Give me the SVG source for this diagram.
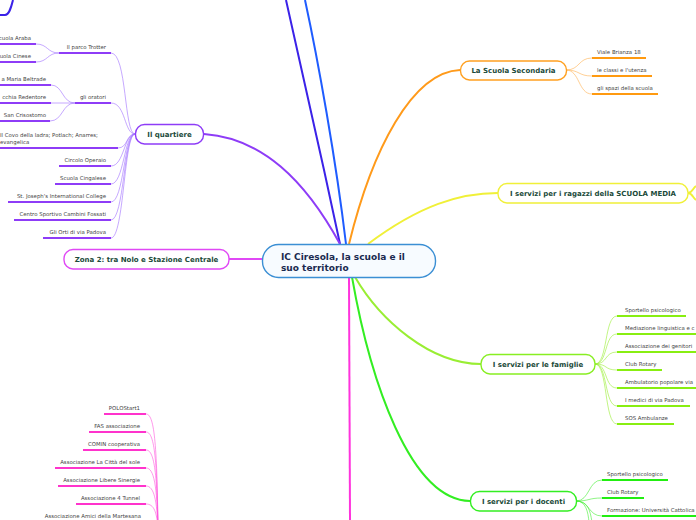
<svg xmlns="http://www.w3.org/2000/svg" width="696" height="520" viewBox="0 0 696 520">
<style>
.t{font-family:"DejaVu Sans",Verdana,sans-serif;font-size:5.4px;fill:#444}
.n{font-family:"DejaVu Sans",Verdana,sans-serif;font-size:7px;font-weight:bold;fill:#1b4a3a;text-anchor:middle}
.e{text-anchor:end}
.box{fill:#fff;stroke-width:1.4}
.ul{fill:none;stroke-width:2}
.c{fill:none;stroke-width:1;opacity:.6}
.m{fill:none;stroke-width:2}
</style>
<rect width="696" height="520" fill="#fff"/>
<g id="connectors">
<path class="m" d="M340,244 C322,160 300,60 286,0" stroke="#3b22e8"/>
<path class="m" d="M346,244 C336,160 318,60 305,0" stroke="#1f5cff"/>
<path class="m" d="M204,134 C262,138 305,180 340,244" stroke="#8e3cf7"/>
<path class="m" d="M349,244 C372,150 412,72 460,70" stroke="#ff9a1a"/>
<path class="m" d="M368,244 C420,205 460,193 498,193" stroke="#f0f038"/>
<path class="m" d="M229,259 L263,259" stroke="#e048f5"/>
<path class="m" d="M349,277 L350,520" stroke="#ff33dd"/>
<path class="m" d="M355,277 C380,320 430,364 481,364" stroke="#99ee33"/>
<path class="m" d="M352,277 C370,380 410,500 470,501" stroke="#33ee22"/>
<path class="m" d="M0,15 L5,15 C9,15 11,8 13,0" stroke="#3b22e8"/>
<path class="m" d="M688,193 C692,193 693,188 696,186 M688,193 C692,193 693,198 696,200" stroke="#f0f038"/>
<g stroke="#a070ff">
<path class="c" d="M111,53 C127,53 124,134 135,134"/>
<path class="c" d="M111,103 C126,103 124,134 135,134"/>
<path class="c" d="M118,148 C128,148 126,134 135,134"/>
<path class="c" d="M111,166 C124,166 124,134 135,134"/>
<path class="c" d="M111,184 C124,184 124,134 135,134"/>
<path class="c" d="M111,202 C124,202 124,134 135,134"/>
<path class="c" d="M111,220 C124,220 124,134 135,134"/>
<path class="c" d="M111,238 C124,238 124,134 135,134"/>
<path class="c" d="M36,44 C48,44 47,53 59,53"/>
<path class="c" d="M36,62 C48,62 47,53 59,53"/>
<path class="c" d="M51,85 C63,85 62,103 75,103"/>
<path class="c" d="M51,103 L75,103"/>
<path class="c" d="M50,121 C63,121 62,103 75,103"/>
</g>
<g stroke="#ff55dd">
<path class="c" d="M146,414 C154,414 157,440 158,530"/>
<path class="c" d="M146,432 C154,432 157,455 158,530"/>
<path class="c" d="M146,450 C154,450 157,470 158,530"/>
<path class="c" d="M146,468 C154,468 157,485 158,530"/>
<path class="c" d="M146,486 C154,486 157,500 158,530"/>
<path class="c" d="M146,504 C154,504 157,512 158,530"/>
</g>
<g stroke="#ffb050">
<path class="c" d="M566,70 C580,70 578,58 592,58"/>
<path class="c" d="M566,70 C580,70 578,76 592,76"/>
<path class="c" d="M566,70 C580,70 578,94 592,94"/>
</g>
<g stroke="#99ee33">
<path class="c" d="M595,364 C608,364 604,316 617,316"/>
<path class="c" d="M595,364 C608,364 604,334 617,334"/>
<path class="c" d="M595,364 C608,364 604,352 617,352"/>
<path class="c" d="M595,364 C608,364 604,370 617,370"/>
<path class="c" d="M595,364 C608,364 604,388 617,388"/>
<path class="c" d="M595,364 C608,364 604,406 617,406"/>
<path class="c" d="M595,364 C608,364 604,424 617,424"/>
</g>
<g stroke="#44ee33">
<path class="c" d="M576,501 C590,501 588,480 602,480"/>
<path class="c" d="M576,501 C590,501 588,498 602,498"/>
<path class="c" d="M576,501 C590,501 588,516 602,516"/>
<path class="c" d="M576,501 C588,501 590,510 592,522"/>
<path class="c" d="M576,501 C586,501 588,512 589,522"/>
</g>
</g>
<g id="center">
<rect x="262.5" y="244.5" width="173" height="33" rx="16" fill="#f7fbff" stroke="#3b8fd4" stroke-width="1.4"/>
<text font-family="DejaVu Sans,Verdana,sans-serif" font-size="9px" font-weight="bold" fill="#1a2a50"><tspan x="281" y="259.5">IC Ciresola, la scuola e il</tspan><tspan x="281" y="270.5">suo territorio</tspan></text>
</g>
<g id="quartiere">
<rect class="box" x="135.5" y="124.5" width="68" height="19.5" rx="9" stroke="#8e3cf7"/>
<text class="n" x="169.5" y="136.5">Il quartiere</text>
</g>
<g id="quartiere-items" stroke="#8e3cf7">
<path class="ul" d="M59,53 H111 M75,103 H111 M0,44 H36 M0,62 H36 M0,85 H51 M0,103 H51 M0,121 H50 M0,148 H118 M59,166 H111 M55,184 H111 M8,202 H111 M14,220 H111 M43,238 H111"/>
</g>
<g id="quartiere-texts" class="t">
<text class="t e" x="106" y="49">Il parco Trotter</text>
<text class="t e" x="106" y="99">gli oratori</text>
<text class="t e" x="31" y="40">cuola Araba</text>
<text class="t e" x="31" y="58">uola Cinese</text>
<text class="t e" x="46" y="81">a Maria Beltrade</text>
<text class="t e" x="46" y="99">cchia Redentore</text>
<text class="t e" x="46" y="117">San Crisostomo</text>
<text class="t" x="0" y="137">Il Covo della ladra; Potlach; Anarres;</text>
<text class="t" x="0" y="144">evangelica</text>
<text class="t e" x="106" y="162">Circolo Operaio</text>
<text class="t e" x="106" y="180">Scuola Cingalese</text>
<text class="t e" x="106" y="198">St. Joseph's International College</text>
<text class="t e" x="106" y="216">Centro Sportivo Cambini Fossati</text>
<text class="t e" x="106" y="234">Gli Orti di via Padova</text>
</g>
<g id="zona2">
<rect class="box" x="64" y="249.5" width="165" height="19.5" rx="9" stroke="#e048f5"/>
<text class="n" x="146.5" y="261.5">Zona 2: tra Nolo e Stazione Centrale</text>
</g>
<g id="zona2-items">
<path class="ul" stroke="#ff33cc" d="M104,414 H146 M89,432 H146 M83,450 H146 M55,468 H146 M58,486 H146 M76,504 H146"/>
<text class="t e" x="140" y="410">POLOStart1</text>
<text class="t e" x="140" y="428">FAS associazione</text>
<text class="t e" x="140" y="446">COMIN cooperativa</text>
<text class="t e" x="140" y="464">Associazione La Città del sole</text>
<text class="t e" x="140" y="482">Associazione Libere Sinergie</text>
<text class="t e" x="140" y="500">Associazione 4 Tunnel</text>
<text class="t e" x="141" y="518">Associazione Amici della Martesana</text>
</g>
<g id="secondaria">
<rect class="box" x="460.5" y="61" width="106" height="19" rx="9" stroke="#ffa020"/>
<text class="n" x="513.5" y="72.5">La Scuola Secondaria</text>
<path class="ul" stroke="#ff9a10" d="M592,58 H646 M592,76 H652 M592,94 H658"/>
<text class="t" x="597" y="54">Viale Brianza 18</text>
<text class="t" x="597" y="72">le classi e l'utenza</text>
<text class="t" x="597" y="90">gli spazi della scuola</text>
</g>
<g id="ragazzi">
<rect class="box" x="498" y="183.5" width="190" height="19.5" rx="9" stroke="#f0f038"/>
<text class="n" x="593" y="195.5">I servizi per i ragazzi della SCUOLA MEDIA</text>
</g>
<g id="famiglie">
<rect class="box" x="481" y="354.5" width="114" height="19.5" rx="9" stroke="#88ee22"/>
<text class="n" x="538" y="366.5">I servizi per le famiglie</text>
<path class="ul" stroke="#88ee11" d="M617,316 H686 M617,334 H696 M617,352 H696 M617,370 H662 M617,388 H696 M617,406 H690 M617,424 H674"/>
<text class="t" x="625" y="312">Sportello psicologico</text>
<text class="t" x="625" y="330">Mediazione linguistica e c</text>
<text class="t" x="625" y="348">Associazione dei genitori</text>
<text class="t" x="625" y="366">Club Rotary</text>
<text class="t" x="625" y="384">Ambulatorio popolare via</text>
<text class="t" x="625" y="402">I medici di via Padova</text>
<text class="t" x="625" y="420">SOS Ambulanze</text>
</g>
<g id="docenti">
<rect class="box" x="470.5" y="491.5" width="106" height="19.5" rx="9" stroke="#33ee22"/>
<text class="n" x="523.5" y="503.5">I servizi per i docenti</text>
<path class="ul" stroke="#22ee11" d="M602,480 H668 M602,498 H644 M602,516 H696"/>
<text class="t" x="607" y="476">Sportello psicologico</text>
<text class="t" x="607" y="494">Club Rotary</text>
<text class="t" x="607" y="512">Formazione: Università Cattolica</text>
</g>
</svg>
